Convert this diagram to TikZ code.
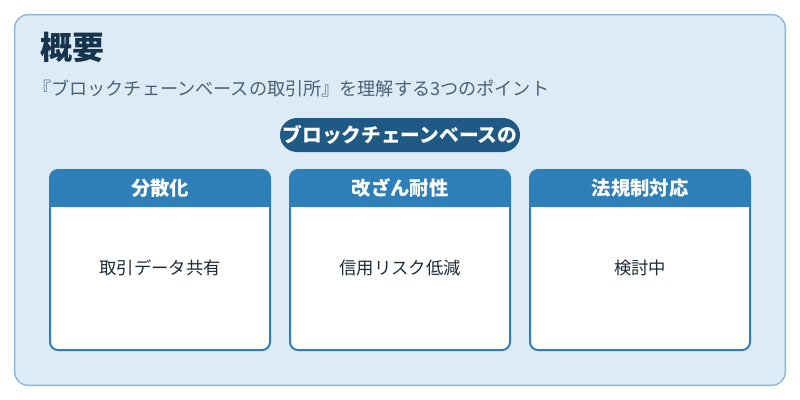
\documentclass[tikz,border=0pt]{standalone}
\usepackage{fontspec}
\newfontfamily\cjk{Noto Sans CJK JP}
\definecolor{bgc}{HTML}{DCEBF6}
\definecolor{bgline}{HTML}{86B6DA}
\definecolor{hdr}{HTML}{2E7FB8}
\definecolor{pill}{HTML}{1F5A85}
\definecolor{ttl}{HTML}{17344D}
\definecolor{sub}{HTML}{4A6275}
\definecolor{txt}{HTML}{1E2A35}
\tikzset{
  cardbody/.style={draw=hdr,line width=1.5pt,fill=white,rounded corners=6pt},
  cardhead/.style={fill=hdr,rounded corners=6pt},
  headtext/.style={text=white,font=\cjk\bfseries\fontsize{14.5}{16}\selectfont},
  bodytext/.style={text=txt,font=\cjk\fontsize{13}{15}\selectfont}
}
\begin{document}
\begin{tikzpicture}[x=0.75pt,y=-0.75pt]
\useasboundingbox (0,0) rectangle (800,400);
\node[draw=bgline,line width=1pt,fill=bgc,rounded corners=10pt,minimum width=578pt,minimum height=278pt,inner sep=0pt] (bg) at (400,200) {};
\node[anchor=west,text=ttl,font=\cjk\bfseries\fontsize{24}{28}\selectfont,inner sep=0pt] (title) at (40,47) {概要};
\node[anchor=west,text=sub,font=\cjk\fontsize{13.6}{15}\selectfont,inner sep=0pt] (subt) at (33,89) {『ブロックチェーンベースの取引所』を理解する3つのポイント};
\node[fill=pill,rounded corners=12.75pt,minimum width=180pt,minimum height=25.5pt,inner sep=0pt,text=white,font=\cjk\bfseries\fontsize{14.8}{16}\selectfont] (pl) at (400,135) {ブロックチェーンベースの};
\foreach \n/\x/\h/\b in {a/50/分散化/取引データ共有, b/290/改ざん耐性/信用リスク低減, c/530/法規制対応/検討中}{
  \draw[cardbody] (\x,170) rectangle (\x+220,350);
  \fill[cardhead] (\x,170) rectangle (\x+220,207);
  \fill[hdr] (\x,195) rectangle (\x+220,207);
  \node[headtext] (h\n) at (\x+110,188) {\h};
  \node[bodytext] (t\n) at (\x+110,268) {\b};
}
\end{tikzpicture}
\end{document}
